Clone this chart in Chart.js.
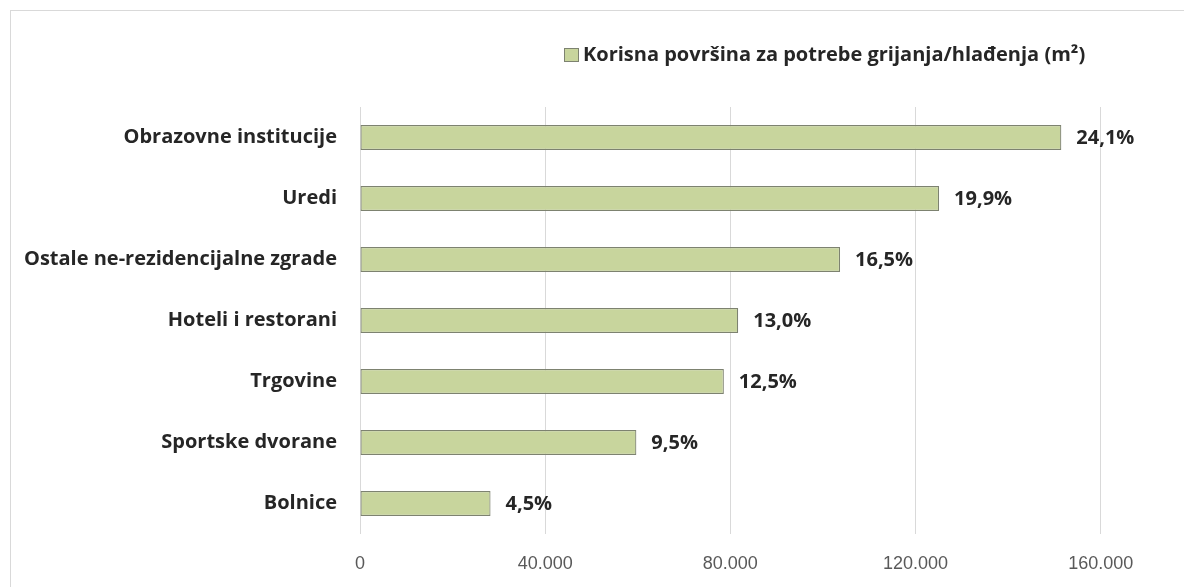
<!DOCTYPE html>
<html>
<head>
<meta charset="utf-8">
<script src="https://cdn.jsdelivr.net/npm/chart.js@4/dist/chart.umd.min.js"></script>
<style>
  html, body { margin: 0; padding: 0; background: #ffffff; overflow: hidden; }
  #wrap { position: relative; width: 1184px; height: 587px; overflow: hidden; }
  #frame { position: absolute; left: 10px; top: 10px; right: -10px; bottom: -10px;
           border-left: 1px solid #d9d9d9; border-top: 1px solid #d9d9d9; }
  canvas { position: absolute; left: 0; top: 0; }
</style>
</head>
<body>
<div id="wrap">
  <div id="frame"></div>
  <canvas id="chart" width="1184" height="587"></canvas>
</div>
<script>
// Building categories, top to bottom
const categories = [
  'Obrazovne institucije',
  'Uredi',
  'Ostale ne-rezidencijalne zgrade',
  'Hoteli i restorani',
  'Trgovine',
  'Sportske dvorane',
  'Bolnice'
];

// Useful floor area for heating/cooling (m²)
const areaValues = [151500, 125100, 103700, 81700, 78600, 59700, 28200];

// Share of the total area, printed beside each bar
const shareLabels = ['24,1%', '19,9%', '16,5%', '13,0%', '12,5%', '9,5%', '4,5%'];

// Value axis ticks
const tickValues = [0, 40000, 80000, 120000, 160000];

const seriesName = 'Korisna površina za potrebe grijanja/hlađenja (m²)';

const FILL = '#c8d59d';
const EDGE = '#7d8270';
const TEXT = '#262626';
const LABEL_FONT = '"Open Sans", "DejaVu Sans", sans-serif';

function thousands(v) {
  return String(v).replace(/\B(?=(\d{3})+(?!\d))/g, '.');
}

// Percent labels to the right of each bar
const shareLabelPlugin = {
  id: 'shareLabels',
  afterDatasetsDraw(chart) {
    const ctx = chart.ctx;
    const meta = chart.getDatasetMeta(0);
    ctx.save();
    ctx.font = 'bold 20px ' + LABEL_FONT;
    ctx.fillStyle = TEXT;
    ctx.textAlign = 'left';
    ctx.textBaseline = 'middle';
    meta.data.forEach((bar, i) => {
      ctx.fillText(shareLabels[i], bar.x + 15, bar.y + 1);
    });
    ctx.restore();
  }
};

// Single-entry legend above the plot
const legendPlugin = {
  id: 'seriesLegend',
  afterDraw(chart) {
    const ctx = chart.ctx;
    const ds = chart.data.datasets[0];
    ctx.save();
    ctx.fillStyle = ds.backgroundColor;
    ctx.strokeStyle = ds.borderColor;
    ctx.lineWidth = 1;
    ctx.fillRect(564.5, 48.5, 14, 13);
    ctx.strokeRect(564.5, 48.5, 14, 13);
    ctx.font = 'bold 20px ' + LABEL_FONT;
    ctx.fillStyle = TEXT;
    ctx.textAlign = 'left';
    ctx.textBaseline = 'middle';
    ctx.fillText(ds.label, 583, 55);
    ctx.restore();
  }
};

new Chart(document.getElementById('chart'), {
  type: 'bar',
  data: {
    labels: categories,
    datasets: [{
      label: seriesName,
      data: areaValues,
      backgroundColor: FILL,
      borderColor: EDGE,
      borderWidth: 1.2,
      borderSkipped: false,
      barPercentage: 0.41,
      categoryPercentage: 1.0
    }]
  },
  options: {
    indexAxis: 'y',
    responsive: false,
    animation: false,
    layout: { padding: { left: 0, right: 0, top: 107, bottom: 0 } },
    plugins: {
      legend: { display: false },
      tooltip: { enabled: false }
    },
    scales: {
      x: {
        min: 0,
        max: 178000,
        afterBuildTicks(scale) {
          scale.ticks = tickValues.map(v => ({ value: v }));
        },
        afterFit(scale) { scale.height = 53; },
        grid: { color: '#d9d9d9', lineWidth: 1, drawTicks: false },
        border: { display: false },
        ticks: {
          padding: 19,
          maxRotation: 0,
          color: '#595959',
          font: { family: '"Liberation Sans", Arial, sans-serif', size: 18 },
          callback: v => thousands(v)
        }
      },
      y: {
        afterFit(scale) { scale.width = 360; },
        grid: { display: false },
        border: { display: false },
        ticks: {
          padding: 15,
          color: TEXT,
          font: { family: LABEL_FONT, size: 20, weight: 'bold' }
        }
      }
    }
  },
  plugins: [shareLabelPlugin, legendPlugin]
});
</script>
</body>
</html>
